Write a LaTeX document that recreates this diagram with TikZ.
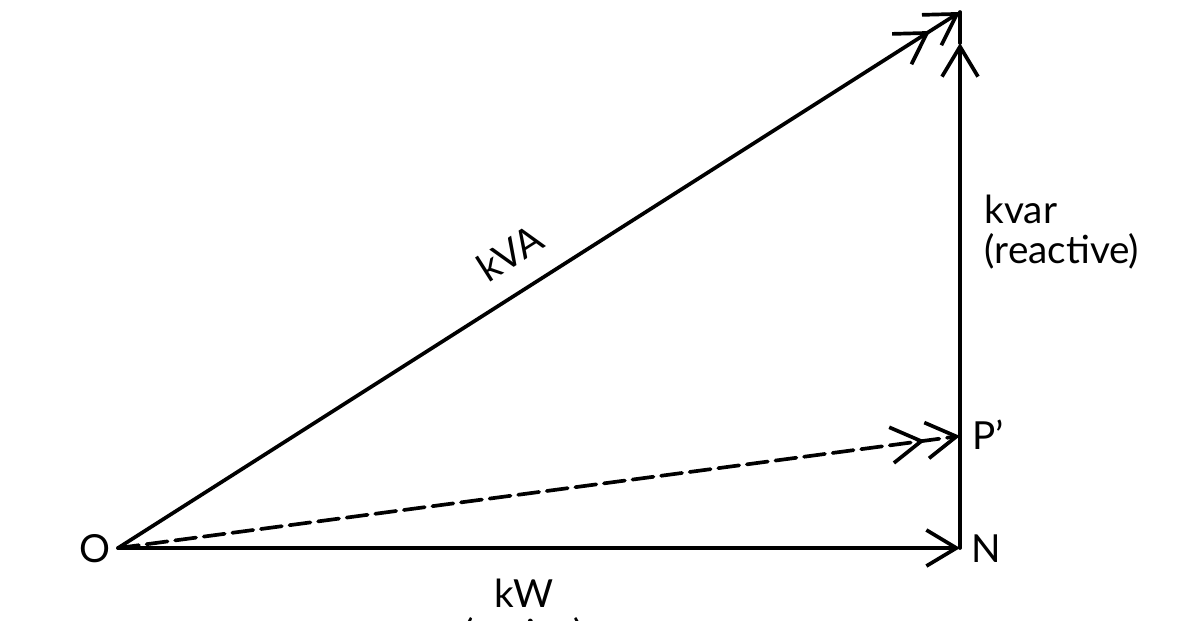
\documentclass[tikz,border=0pt]{standalone}
\usepackage{fontspec}
\setmainfont{Lato}
\usetikzlibrary{arrows.meta, positioning}
\tikzset{
    bareV/.style={line width=1.05pt, line cap=round,
        -{Straight Barb[length=3mm,width=3.6mm,line width=1.05pt]}},
    bareVV/.style={line width=1.05pt, line cap=round,
        -{Straight Barb[length=3mm,width=3.6mm,line width=1.05pt]
          Straight Barb[length=3mm,width=3.6mm,line width=1.05pt]}},
    bareL/.style={line width=1.05pt, line cap=round},
    lbl/.style={font=\fontsize{11}{11.4}\selectfont, inner sep=0pt}
}
\begin{document}
\begin{tikzpicture}[x=0.01cm, y=0.01cm]
    \useasboundingbox (0,0) rectangle (1181,620);
    \clip (0,0) rectangle (1181,620);
    \coordinate (o) at (118,72);
    \coordinate (n) at (960,72);
    \coordinate (t) at (960,608);
    \coordinate (q) at (960,577);
    \coordinate (p) at (960,184);
    \draw[bareVV] (o) -- (t) node[lbl, pos=0.49, sloped, above=0.22cm] (kva) {kVA};
    \draw[bareV] (o) -- (n);
    \draw[bareV] (n) -- (q);
    \draw[bareL] (q) -- (t);
    \draw[bareVV, dash pattern=on 6pt off 2.2pt] (o) -- (p);
    \node[lbl] (lo) at (95,71) {O};
    \node[lbl, anchor=west] (ln) at (971,71) {N};
    \node[lbl, anchor=west] (lp) at (972,185) {P’};
    \node[lbl, anchor=north west, align=left] (lq) at (984,426) {kvar\\(reactive)};
    \node[lbl, anchor=north, align=center] (lw) at (524,42) {kW\\(active)};
\end{tikzpicture}
\end{document}
